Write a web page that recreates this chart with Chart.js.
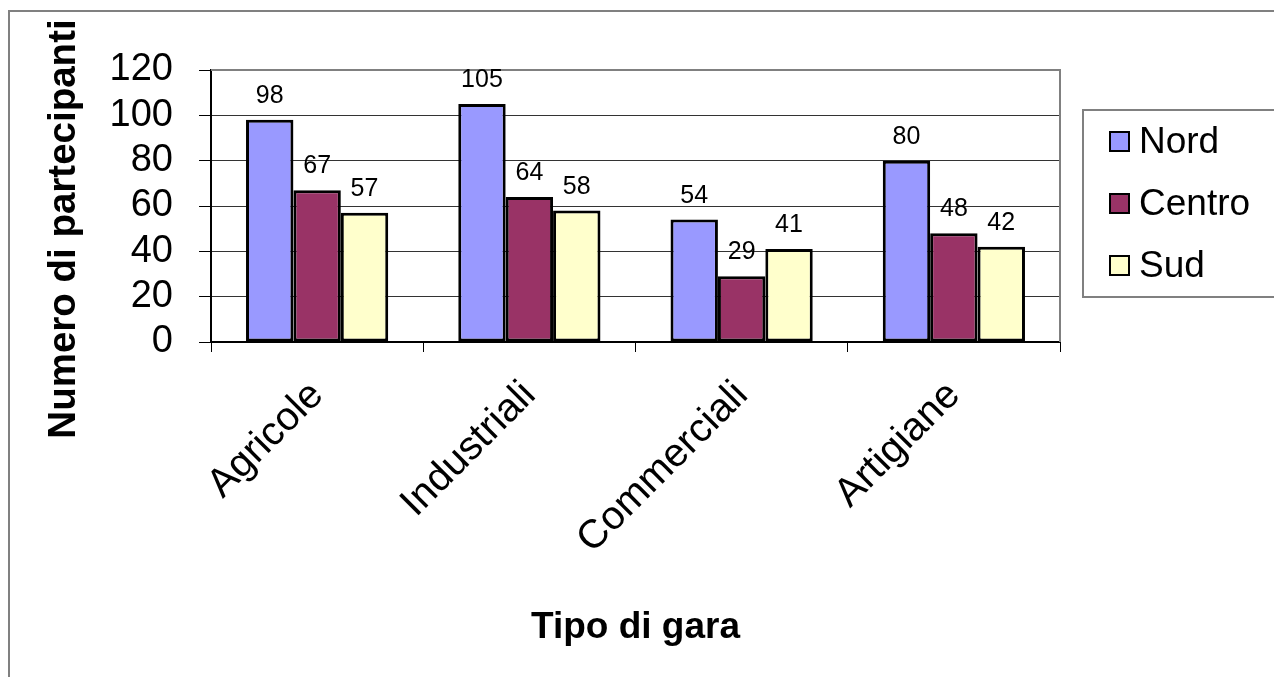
<!DOCTYPE html>
<html>
<head>
<meta charset="utf-8">
<script src="https://cdn.jsdelivr.net/npm/chart.js@4.4.0/dist/chart.umd.min.js"></script>
<style>
  html, body { margin: 0; padding: 0; background: #fff; }
  canvas { display: block; }
</style>
</head>
<body>
<canvas id="chart" width="1274" height="677"></canvas>
<script>
const categories = ['Agricole', 'Industriali', 'Commerciali', 'Artigiane'];
const nord = [98, 105, 54, 80];
const centro = [67, 64, 29, 48];
const sud = [57, 58, 41, 42];
const yTicks = [0, 20, 40, 60, 80, 100, 120];

const FONT = "'Liberation Sans', Arial, sans-serif";

// outer frame, plot border, y title
const framePlugin = {
  id: 'framePlugin',
  beforeDraw(chart) {
    const ctx = chart.ctx;
    ctx.save();
    ctx.fillStyle = '#fff';
    ctx.fillRect(0, 0, chart.width, chart.height);
    ctx.strokeStyle = '#808080';
    ctx.lineWidth = 2;
    ctx.beginPath();
    ctx.moveTo(9, chart.height);
    ctx.lineTo(9, 11);
    ctx.lineTo(chart.width, 11);
    ctx.stroke();

    // y title, a bit lower than the plot centre like the original
    ctx.fillStyle = '#000';
    ctx.font = 'bold 38.5px ' + FONT;
    ctx.textAlign = 'center';
    ctx.textBaseline = 'middle';
    ctx.translate(64, 229);
    ctx.rotate(-Math.PI / 2);
    ctx.fillText('Numero di partecipanti', 0, 0);
    ctx.restore();
  },
  beforeDatasetsDraw(chart) {
    const ctx = chart.ctx;
    const a = chart.chartArea;
    ctx.save();
    ctx.strokeStyle = '#808080';
    ctx.lineWidth = 2;
    ctx.beginPath();
    ctx.moveTo(a.left, a.top);
    ctx.lineTo(a.right, a.top);
    ctx.lineTo(a.right, a.bottom);
    ctx.stroke();
    ctx.restore();
  }
};

// value above each bar
const valueLabels = {
  id: 'valueLabels',
  afterDatasetsDraw(chart) {
    const ctx = chart.ctx;
    ctx.save();
    ctx.fillStyle = '#000';
    ctx.font = '25px ' + FONT;
    ctx.textAlign = 'center';
    ctx.textBaseline = 'alphabetic';
    chart.data.datasets.forEach((ds, i) => {
      const meta = chart.getDatasetMeta(i);
      meta.data.forEach((bar, j) => {
        ctx.fillText(String(ds.data[j]), bar.x, bar.y - 17);
      });
    });
    ctx.restore();
  }
};

// boxed legend on the right
const boxLegend = {
  id: 'boxLegend',
  afterDraw(chart) {
    const ctx = chart.ctx;
    const x0 = 1083, y0 = 110, h = 187;
    ctx.save();
    ctx.strokeStyle = '#808080';
    ctx.lineWidth = 2;
    ctx.strokeRect(x0, y0, chart.width - x0 + 5, h);
    ctx.font = '37px ' + FONT;
    ctx.textBaseline = 'middle';
    ctx.textAlign = 'left';
    chart.data.datasets.forEach((ds, i) => {
      const cy = 142 + i * 62;
      ctx.fillStyle = ds.backgroundColor;
      ctx.fillRect(1110, cy - 10, 19, 19);
      ctx.strokeStyle = '#000';
      ctx.lineWidth = 2;
      ctx.strokeRect(1110, cy - 10, 19, 19);
      ctx.fillStyle = '#000';
      ctx.fillText(ds.label, 1139, cy + 1);
    });
    ctx.restore();
  }
};

const bar = (label, data, color) => ({
  label, data,
  backgroundColor: color,
  borderColor: '#000',
  borderWidth: 3,
  borderSkipped: false,
  categoryPercentage: 0.67,
  barPercentage: 1
});

new Chart(document.getElementById('chart'), {
  type: 'bar',
  data: {
    labels: categories,
    datasets: [
      bar('Nord', nord, '#9999FF'),
      bar('Centro', centro, '#993366'),
      bar('Sud', sud, '#FFFFCC')
    ]
  },
  options: {
    responsive: false,
    animation: false,
    devicePixelRatio: 1,
    layout: { padding: { left: 10, top: 70, right: 214, bottom: 0 } },
    plugins: {
      legend: { display: false },
      tooltip: { enabled: false }
    },
    scales: {
      x: {
        afterFit: (s) => { s.height = 335; },
        grid: { drawOnChartArea: false, tickLength: 10, color: '#000', tickColor: '#000' },
        border: { display: true, color: '#000', width: 2 },
        ticks: {
          color: '#000', font: { family: FONT, size: 40 },
          minRotation: 45, maxRotation: 45, autoSkip: false, padding: 20
        },
        title: {
          display: true, text: 'Tipo di gara', color: '#000',
          font: { family: FONT, size: 37, weight: 'bold' },
          padding: { top: 0, bottom: 27 }
        }
      },
      y: {
        min: 0, max: 120,
        afterFit: (s) => { s.width = 201; },
        afterBuildTicks: (s) => { s.ticks = yTicks.map(v => ({ value: v })); },
        grid: {
          tickLength: 12,
          color: (c) => (c.tick && c.tick.value === 120 ? '#808080' : '#333'),
          tickColor: '#000'
        },
        border: { display: true, color: '#000', width: 2 },
        ticks: { color: '#000', font: { family: FONT, size: 38 }, padding: 26, autoSkip: false }
      }
    }
  },
  plugins: [framePlugin, valueLabels, boxLegend]
});
</script>
</body>
</html>
